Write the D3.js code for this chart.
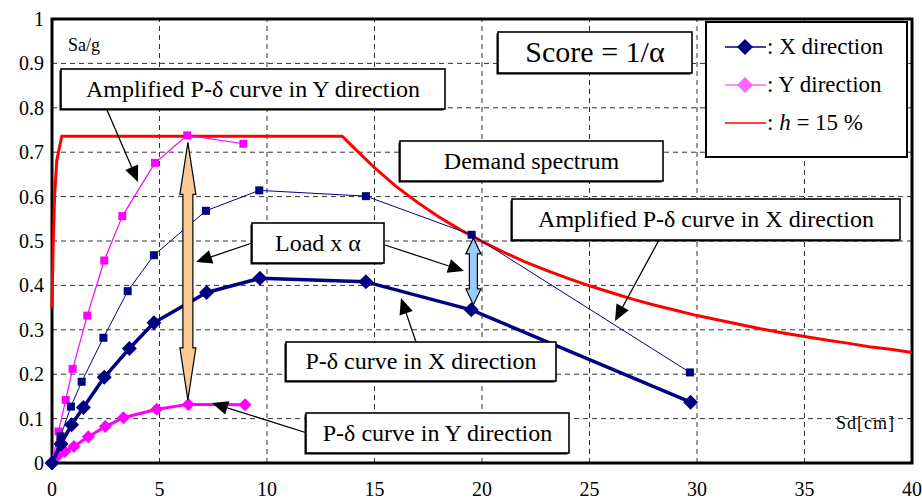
<!DOCTYPE html>
<html>
<head>
<meta charset="utf-8">
<script src="https://cdn.jsdelivr.net/npm/d3@7"></script>
<style>
  body { margin: 0; background: #fff; }
  svg { display: block; font-family: "Liberation Serif", "Times New Roman", serif; }
</style>
</head>
<body>
<div id="chart"></div>
<script>
// values: [Sd (cm), Sa/g]
const pdX = [[0, 0], [0.42, 0.043], [0.91, 0.086], [1.46, 0.125], [2.43, 0.193], [3.6, 0.258],
  [4.74, 0.316], [7.19, 0.384], [9.67, 0.416], [14.6, 0.408], [19.5, 0.345], [29.7, 0.137]]
const ampX = [[0, 0], [0.4, 0.06], [0.88, 0.127], [1.38, 0.183], [2.39, 0.282], [3.52, 0.387],
  [4.74, 0.468], [7.16, 0.568], [9.64, 0.614], [14.6, 0.601], [19.52, 0.514], [29.67, 0.204]]
const pdY = [[0, 0], [0.3, 0.018], [0.6, 0.026], [1.02, 0.037], [1.69, 0.059], [2.48, 0.082],
  [3.32, 0.102], [4.87, 0.121], [6.34, 0.132], [8.98, 0.131]]
const ampY = [[0, 0], [0.3, 0.071], [0.64, 0.142], [0.96, 0.212], [1.64, 0.332], [2.43, 0.456],
  [3.27, 0.556], [4.79, 0.676], [6.29, 0.738], [8.9, 0.719]]
const demand = [[0, 0.35], [0.05, 0.48], [0.12, 0.6], [0.22, 0.68], [0.45, 0.736], [13.5, 0.736],
  [14, 0.712], [15, 0.665], [16, 0.623], [17, 0.587], [18, 0.554], [19, 0.525], [20, 0.499],
  [21, 0.475], [22, 0.453], [23, 0.434], [24, 0.416], [25, 0.399], [26, 0.384], [27, 0.369],
  [28, 0.356], [29, 0.344], [30, 0.332], [31, 0.322], [32, 0.312], [33, 0.302], [34, 0.293],
  [35, 0.285], [36, 0.277], [37, 0.27], [38, 0.262], [39, 0.256], [40, 0.249]]

const xTicks = [0, 5, 10, 15, 20, 25, 30, 35, 40]
const yTicks = [0, 0.1, 0.2, 0.3, 0.4, 0.5, 0.6, 0.7, 0.8, 0.9, 1]
const yTickLabels = ['0', '0.1', '0.2', '0.3', '0.4', '0.5', '0.6', '0.7', '0.8', '0.9', '1']

// double arrows: x, y from, y to (data units)
const loadArrowY = { x: 6.32, y0: 0.722, y1: 0.142 }
const loadArrowX = { x: 19.6, y0: 0.507, y1: 0.356 }

const width = 922
const height = 500
const x = d3.scaleLinear().domain([0, 40]).range([52, 912])
const y = d3.scaleLinear().domain([0, 1]).range([463, 19])

const svg = d3.select('#chart').append('svg').attr('width', width).attr('height', height)

// grid
const grid = svg.append('g').attr('stroke', '#333').attr('stroke-width', 1).attr('stroke-dasharray', '5,4')
grid.selectAll('.gx').data(xTicks.slice(1, -1)).join('line')
  .attr('x1', d => x(d)).attr('x2', d => x(d)).attr('y1', y(0)).attr('y2', y(1))
grid.selectAll('.gy').data(yTicks.slice(1, -1)).join('line')
  .attr('x1', x(0)).attr('x2', x(40)).attr('y1', d => y(d)).attr('y2', d => y(d))

// tick labels
svg.append('g').selectAll('text').data(yTicks).join('text')
  .attr('x', 44).attr('y', d => y(d) + 7).attr('text-anchor', 'end')
  .style('font-size', '20px').text((d, i) => yTickLabels[i])
svg.append('g').selectAll('text').data(xTicks).join('text')
  .attr('x', d => x(d)).attr('y', 496).attr('text-anchor', 'middle')
  .style('font-size', '20px').text(d => d)

svg.append('text').attr('x', 68).attr('y', 51).style('font-size', '18px').text('Sa/g')
svg.append('text').attr('x', 836).attr('y', 429).style('font-size', '18px')
  .style('letter-spacing', '1px').text('Sd[cm]')

// frame
svg.append('rect').attr('x', x(0)).attr('y', y(1)).attr('width', x(40) - x(0)).attr('height', y(0) - y(1))
  .attr('fill', 'none').attr('stroke', '#000').attr('stroke-width', 3)

const line = d3.line().x(d => x(d[0])).y(d => y(d[1]))

const plot = svg.append('g')
plot.append('path').datum(demand).attr('d', line).attr('fill', 'none')
  .attr('stroke', '#ff0000').attr('stroke-width', 3).attr('stroke-linejoin', 'round')

function diamond(cx, cy, r) {
  return `M${cx},${cy - r}L${cx + r},${cy}L${cx},${cy + r}L${cx - r},${cy}Z`
}

function series(data, color, lw, marker, size) {
  const g = plot.append('g')
  g.append('path').datum(data).attr('d', line).attr('fill', 'none')
    .attr('stroke', color).attr('stroke-width', lw).attr('stroke-linejoin', 'round')
  if (marker === 'square') {
    g.selectAll('rect').data(data.slice(1)).join('rect')
      .attr('x', d => x(d[0]) - size / 2).attr('y', d => y(d[1]) - size / 2)
      .attr('width', size).attr('height', size).attr('fill', color)
  } else {
    g.selectAll('path.m').data(data).join('path').attr('class', 'm')
      .attr('d', d => diamond(x(d[0]), y(d[1]), size)).attr('fill', color)
  }
}

series(ampY, '#ff00ff', 1.2, 'square', 8)
series(ampX, '#000080', 1, 'square', 8)
series(pdY, '#ff00ff', 3, 'diamond', 6.5)
series(pdX, '#000080', 3.5, 'diamond', 7.5)

// double arrows
function doubleArrow(a, fill, shaftW, headW, headL) {
  const cx = x(a.x), top = y(a.y0), bot = y(a.y1)
  const s = shaftW / 2, h = headW / 2
  const pts = [[cx, top], [cx + h, top + headL], [cx + s, top + headL], [cx + s, bot - headL],
    [cx + h, bot - headL], [cx, bot], [cx - h, bot - headL], [cx - s, bot - headL],
    [cx - s, top + headL], [cx - h, top + headL]]
  svg.append('polygon').attr('points', pts.map(p => p.join(',')).join(' '))
    .attr('fill', fill).attr('stroke', '#000').attr('stroke-width', 1.2)
}
doubleArrow(loadArrowY, '#fbc995', 10, 16, 52)
doubleArrow(loadArrowX, '#99ccff', 8, 15, 16)

// pointer arrows
function pointer(x1, y1, x2, y2) {
  const ang = Math.atan2(y2 - y1, x2 - x1)
  const L = 16, W = 7
  const bx = x2 - L * Math.cos(ang), by = y2 - L * Math.sin(ang)
  svg.append('line').attr('x1', x1).attr('y1', y1).attr('x2', bx).attr('y2', by)
    .attr('stroke', '#000').attr('stroke-width', 1.3)
  const px = -Math.sin(ang) * W, py = Math.cos(ang) * W
  svg.append('polygon')
    .attr('points', `${x2},${y2} ${bx + px},${by + py} ${bx - px},${by - py}`).attr('fill', '#000')
}
pointer(107, 110, 138, 182)
pointer(252, 243, 196, 262)
pointer(385, 245, 464, 271)
pointer(659, 240, 615, 321)
pointer(416, 342, 401, 298)
pointer(307, 433, 212, 403)

// text boxes
function box(x0, y0, x1, y1, label, size) {
  const g = svg.append('g')
  g.append('rect').attr('x', x0 - 1.5).attr('y', y0 + 1.5).attr('width', x1 - x0).attr('height', y1 - y0)
    .attr('fill', '#000')
  g.append('rect').attr('x', x0).attr('y', y0).attr('width', x1 - x0).attr('height', y1 - y0)
    .attr('fill', '#fff').attr('stroke', '#000').attr('stroke-width', 1.6)
  g.append('text').attr('x', (x0 + x1) / 2).attr('y', (y0 + y1) / 2 + size * 0.33)
    .attr('text-anchor', 'middle').style('font-size', size + 'px').text(label)
}
box(61, 69, 445, 109, 'Amplified P-δ curve in Y direction', 24)
box(498, 32, 692, 73, 'Score = 1/α', 30)
box(400, 141, 663, 181, 'Demand spectrum', 24)
box(512, 199, 900, 240, 'Amplified P-δ curve in X direction', 24)
box(252, 223, 384, 263, 'Load x α', 24)
box(286, 342, 556, 381, 'P-δ curve in X direction', 24)
box(306, 413, 569, 453, 'P-δ curve in Y direction', 24)

// legend
const lg = svg.append('g')
lg.append('rect').attr('x', 706).attr('y', 22).attr('width', 201).attr('height', 135)
  .attr('fill', '#fff').attr('stroke', '#000').attr('stroke-width', 2)
const legendItems = [
  { color: '#000080', marker: true, label: ': X direction', yy: 47 },
  { color: '#ff66ff', marker: true, label: ': Y direction', yy: 85 },
  { color: '#ff0000', marker: false, label: null, yy: 123 }
]
legendItems.forEach(d => {
  lg.append('line').attr('x1', 725).attr('x2', 766).attr('y1', d.yy).attr('y2', d.yy)
    .attr('stroke', d.color).attr('stroke-width', 1.3)
  if (d.marker) lg.append('path').attr('d', diamond(745, d.yy, 8)).attr('fill', d.color)
  const t = lg.append('text').attr('x', 767).attr('y', d.yy + 7).style('font-size', '23px')
  if (d.label) t.text(d.label)
  else {
    t.append('tspan').text(': ')
    t.append('tspan').style('font-style', 'italic').text('h')
    t.append('tspan').text(' = 15 %')
  }
})
</script>
</body>
</html>
